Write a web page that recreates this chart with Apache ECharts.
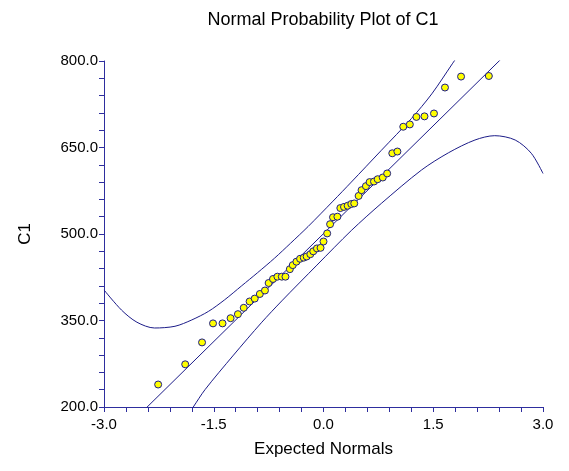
<!DOCTYPE html>
<html>
<head>
<meta charset="utf-8">
<title>Normal Probability Plot of C1</title>
<script src="https://cdn.jsdelivr.net/npm/echarts@6/dist/echarts.min.js"></script>
<style>
  html, body { margin: 0; padding: 0; background: #fff; }
  #chart { width: 569px; height: 471px; }
</style>
</head>
<body>
<div id="chart"></div>
<script>
// values
const xNormals = [-2.26, -1.89, -1.66, -1.51, -1.38, -1.27, -1.17, -1.09, -1.01, -0.94,
  -0.87, -0.80, -0.75, -0.69, -0.63, -0.57, -0.52, -0.46, -0.42, -0.37,
  -0.32, -0.27, -0.23, -0.18, -0.14, -0.09, -0.04, 0.00, 0.05, 0.09,
  0.13, 0.19, 0.23, 0.28, 0.33, 0.38, 0.42, 0.48, 0.52, 0.58,
  0.63, 0.69, 0.74, 0.81, 0.87, 0.94, 1.01, 1.09, 1.18, 1.27,
  1.38, 1.51, 1.66, 1.88, 2.26];
const c1Values = [239, 274, 312, 345, 345, 354, 361, 372, 383, 388,
  396, 402, 415, 422, 426, 426, 426, 439, 446, 452,
  457, 459, 461, 465, 470, 475, 476, 487, 501, 517,
  529, 530, 545, 547, 549, 552, 553, 566, 576, 583,
  590, 591, 595, 598, 605, 640, 643, 686, 690, 703,
  704, 709, 754, 773, 774];

// fitted line
const fitX = [-2.45, 2.44];
const fitY = [195, 805];

// confidence limits
const upperX = [-3.00, -2.76, -2.55, -2.31, -2.03, -1.80, -1.57, -1.35, -1.12, -0.90, -0.67, -0.45, -0.21, 0.13, 0.38, 0.79, 1.20, 1.48, 1.76, 1.82];
const upperY = [403, 368, 347, 337, 340, 351, 366, 386, 410, 433, 458, 484, 513, 557, 590, 645, 700, 743, 795, 806];
const lowerX = [-1.83, -1.78, -1.62, -1.23, -0.85, -0.57, -0.09, 0.38, 0.79, 1.34, 1.71, 2.07, 2.34, 2.62, 2.84, 3.00];
const lowerY = [191, 200, 230, 290, 346, 384, 446, 506, 553, 611, 641, 663, 670.5, 663, 640, 605];

// axis ticks and labels
const xTicks = [-3, -2.7, -2.4, -2.1, -1.8, -1.5, -1.2, -0.9, -0.6, -0.3, 0, 0.3, 0.6, 0.9, 1.2, 1.5, 1.8, 2.1, 2.4, 2.7, 3];
const xLabels = [-3, -1.5, 0, 1.5, 3];
const yTicks = [200, 230, 260, 290, 320, 350, 380, 410, 440, 470, 500, 530, 560, 590, 620, 650, 680, 710, 740, 770, 800];
const yLabels = [200, 350, 500, 650, 800];

const FONT = 'Liberation Sans, Arial, sans-serif';
const AXIS_COLOR = '#2e2e9e';
const LINE_COLOR = '#1c1c88';

function pairs(xs, ys) {
  return xs.map((x, i) => [x, ys[i]]);
}

const chart = echarts.init(document.getElementById('chart'), null, { renderer: 'canvas' });

const axisCommon = {
  type: 'value',
  axisLine: { show: true, onZero: false, lineStyle: { color: AXIS_COLOR, width: 1 } },
  axisTick: { show: true, inside: false, length: 5, lineStyle: { color: AXIS_COLOR, width: 1 } },
  splitLine: { show: false },
  nameLocation: 'middle',
  nameTextStyle: { color: '#000', fontSize: 17, fontFamily: FONT }
};

chart.setOption({
  animation: false,
  backgroundColor: '#fff',
  graphic: [{
    type: 'text',
    x: 323,
    y: 20,
    style: {
      text: 'Normal Probability Plot of C1',
      fill: '#000',
      font: '18px ' + FONT,
      align: 'center',
      verticalAlign: 'middle'
    }
  }],
  grid: { left: 104, right: 26, top: 61, bottom: 64, containLabel: false },
  xAxis: Object.assign({}, axisCommon, {
    min: -3,
    max: 3,
    name: 'Expected Normals',
    nameGap: 34,
    axisTick: Object.assign({}, axisCommon.axisTick, { customValues: xTicks }),
    axisLabel: {
      customValues: xLabels,
      color: '#000',
      fontSize: 15,
      fontFamily: FONT,
      margin: 10,
      formatter: v => v.toFixed(1)
    }
  }),
  yAxis: Object.assign({}, axisCommon, {
    min: 200,
    max: 800,
    name: 'C1',
    nameGap: 70,
    axisTick: Object.assign({}, axisCommon.axisTick, { customValues: yTicks }),
    axisLabel: {
      customValues: yLabels,
      color: '#000',
      fontSize: 15,
      fontFamily: FONT,
      margin: 6,
      formatter: v => v.toFixed(1)
    }
  }),
  series: [
    {
      type: 'line',
      data: pairs(fitX, fitY),
      showSymbol: false,
      lineStyle: { color: LINE_COLOR, width: 1 },
      clip: true,
      z: 2
    },
    {
      type: 'line',
      data: pairs(upperX, upperY),
      smooth: 0.3,
      showSymbol: false,
      lineStyle: { color: LINE_COLOR, width: 1 },
      clip: true,
      z: 2
    },
    {
      type: 'line',
      data: pairs(lowerX, lowerY),
      smooth: 0.3,
      showSymbol: false,
      lineStyle: { color: LINE_COLOR, width: 1 },
      clip: true,
      z: 2
    },
    {
      type: 'scatter',
      data: pairs(xNormals, c1Values),
      symbol: 'circle',
      symbolSize: 7,
      itemStyle: { color: '#ffff00', borderColor: '#1c1c88', borderWidth: 1, opacity: 1 },
      z: 3
    }
  ]
});
</script>
</body>
</html>
